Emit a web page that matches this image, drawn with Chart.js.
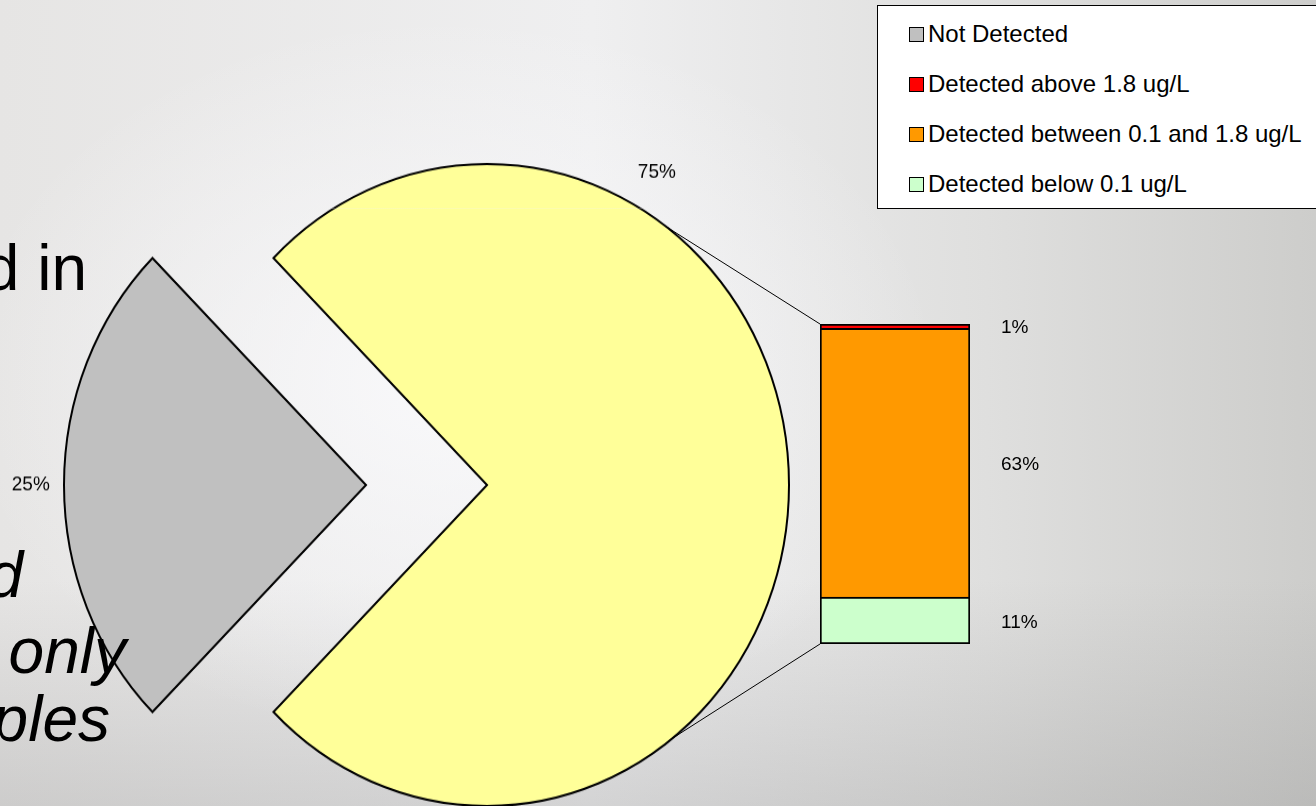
<!DOCTYPE html>
<html>
<head>
<meta charset="utf-8">
<script src="https://cdn.jsdelivr.net/npm/chart.js@4.4.0/dist/chart.umd.min.js"></script>
<style>
    html, body { margin: 0; padding: 0; }
    body {
        width: 1316px; height: 806px; overflow: hidden; position: relative;
        font-family: "Liberation Sans", Arial, sans-serif;
        background:
            radial-gradient(ellipse 700px 520px at 450px 380px, rgba(250,250,252,0.9), rgba(250,250,252,0) 70%),
            linear-gradient(to bottom, rgba(0,0,0,0) 72%, rgba(140,140,140,0.28) 100%),
            linear-gradient(to right, #e6e5e4 0%, #efeff0 45%, #dfdfde 75%, #cdcdcb 100%);
    }
    canvas { position: absolute; left: 0; top: 0; }
    #pieCanvas { z-index: 1; }
    #barCanvas { z-index: 2; }
    .slide { position: absolute; font-size: 64px; line-height: 1; color: #000; white-space: nowrap; z-index: 3; }
    .slide.it { font-style: italic; }
    #legend {
        position: absolute; left: 877px; top: 5px; width: 460px; height: 202px;
        background: #fff; border: 1px solid #000; z-index: 4;
    }
    .item { position: absolute; left: 31px; height: 24px; display: flex; align-items: center; font-size: 24px; color: #000; white-space: nowrap; }
    .sw { width: 13px; height: 13px; border: 1px solid #000; margin-right: 4px; }
</style>
</head>
<body>
<div class="slide" style="top:236px; right:1229px;">d in</div>
<div class="slide it" style="top:543px; right:1293px;">d</div>
<div class="slide it" style="top:619px; right:1190px;">only</div>
<div class="slide it" style="top:687px; right:1206px;">ples</div>

<canvas id="pieCanvas" width="1316" height="806"></canvas>
<canvas id="barCanvas" width="1316" height="806"></canvas>
<div id="legend"></div>

<script>
// pie: the "other" slice (yellow) is broken out into the bar on the right
const pieLabels = ['Detected', 'Not Detected'];
const pieValues = [75, 25];
const pieColors = ['#ffff99', '#c0c0c0'];

// bar, bottom to top
const barLabels = ['Detected below 0.1 ug/L', 'Detected between 0.1 and 1.8 ug/L', 'Detected above 1.8 ug/L'];
const barValues = [11, 63, 1];
const barColors = ['#ccffcc', '#ff9900', '#ff0000'];

const SY = 1.063; // pie is drawn slightly taller than wide in the original

// legend (html)
const legendItems = [
    { text: pieLabels[1], color: pieColors[1] },
    ...barLabels.map((l, i) => ({ text: l, color: barColors[i] })).reverse()
];
const legendEl = document.getElementById('legend');
legendItems.forEach((it, i) => {
    const row = document.createElement('div');
    row.className = 'item';
    row.style.top = (16 + i * 50) + 'px';
    row.innerHTML = '<span class="sw" style="background:' + it.color + '"></span><span>' + it.text + '</span>';
    legendEl.appendChild(row);
});

const pieLabelPlugin = {
    id: 'pieLabels',
    afterDatasetsDraw(chart) {
        const ctx = chart.ctx;
        const meta = chart.getDatasetMeta(0);
        const angles = [30, 270];
        const dist = [1.125, 1.11];
        ctx.save();
        ctx.font = '19px "Liberation Sans", Arial, sans-serif';
        ctx.fillStyle = '#000';
        ctx.textAlign = 'center';
        ctx.textBaseline = 'middle';
        meta.data.forEach((arc, i) => {
            const off = (arc.options.offset || 0) / 4;
            const mid = (arc.startAngle + arc.endAngle) / 2;
            const cx = arc.x + Math.cos(mid) * off;
            const cy = arc.y + Math.sin(mid) * off;
            const a = angles[i] * Math.PI / 180 - Math.PI / 2;
            const r = arc.outerRadius * dist[i];
            ctx.save();
            ctx.translate(cx + Math.cos(a) * r, cy + Math.sin(a) * r);
            ctx.scale(1, 1 / SY);
            ctx.fillText(pieValues[i] + '%', 0, 0);
            ctx.restore();
        });
        ctx.restore();
    }
};

const pie = new Chart(document.getElementById('pieCanvas'), {
    type: 'pie',
    data: {
        labels: pieLabels,
        datasets: [{
            data: pieValues,
            backgroundColor: pieColors,
            borderColor: '#000',
            borderWidth: 2,
            borderJoinStyle: 'miter',
            offset: [0, 484],
            clip: false
        }]
    },
    options: {
        responsive: false,
        animation: false,
        devicePixelRatio: 1,
        events: [],
        rotation: -45,
        radius: 302,
        layout: { padding: { left: 0, right: 342, top: 164, bottom: 0 } },
        plugins: { legend: { display: false }, tooltip: { enabled: false } }
    },
    plugins: [pieLabelPlugin]
});

const pieArc = pie.getDatasetMeta(0).data[0];
document.getElementById('pieCanvas').style.transform = 'scaleY(' + SY + ')';
document.getElementById('pieCanvas').style.transformOrigin = '0 ' + pieArc.y + 'px';

const barLabelPlugin = {
    id: 'barLabels',
    afterDatasetsDraw(chart) {
        const ctx = chart.ctx;
        ctx.save();
        ctx.font = '19px "Liberation Sans", Arial, sans-serif';
        ctx.fillStyle = '#000';
        ctx.textAlign = 'left';
        ctx.textBaseline = 'middle';
        chart.data.datasets.forEach((ds, i) => {
            const el = chart.getDatasetMeta(i).data[0];
            ctx.fillText(ds.data[0] + '%', el.x + el.width / 2 + 31, (el.y + el.base) / 2 + 2);
        });
        ctx.restore();
    }
};

// series lines from the pie to the bar
const connectorPlugin = {
    id: 'connectors',
    beforeDatasetsDraw(chart) {
        const ctx = chart.ctx;
        const n = chart.data.datasets.length;
        const topEl = chart.getDatasetMeta(n - 1).data[0];
        const botEl = chart.getDatasetMeta(0).data[0];
        const r = pieArc.outerRadius;
        const pt = deg => {
            const a = deg * Math.PI / 180;
            return [pieArc.x + r * Math.sin(a), pieArc.y - SY * r * Math.cos(a)];
        };
        const p1 = pt(36.5), p2 = pt(142);
        ctx.save();
        ctx.strokeStyle = '#000';
        ctx.lineWidth = 1;
        ctx.beginPath();
        ctx.moveTo(p1[0], p1[1]);
        ctx.lineTo(topEl.x - topEl.width / 2, topEl.y);
        ctx.moveTo(p2[0], p2[1]);
        ctx.lineTo(botEl.x - botEl.width / 2, botEl.base);
        ctx.stroke();
        ctx.restore();
    }
};

const bar = new Chart(document.getElementById('barCanvas'), {
    type: 'bar',
    data: {
        labels: ['Detected'],
        datasets: barLabels.map((l, i) => ({
            label: l,
            data: [barValues[i]],
            backgroundColor: barColors[i],
            borderColor: '#000',
            borderWidth: 2,
            borderSkipped: i === 0 ? false : 'start',
            barPercentage: 1,
            categoryPercentage: 1
        }))
    },
    options: {
        responsive: false,
        animation: false,
        devicePixelRatio: 1,
        events: [],
        layout: { padding: { left: 820, right: 346, top: 324, bottom: 162 } },
        scales: {
            x: { display: false, stacked: true },
            y: { display: false, stacked: true, min: 0, max: 75 }
        },
        plugins: { legend: { display: false }, tooltip: { enabled: false } }
    },
    plugins: [barLabelPlugin, connectorPlugin]
});
</script>
</body>
</html>
